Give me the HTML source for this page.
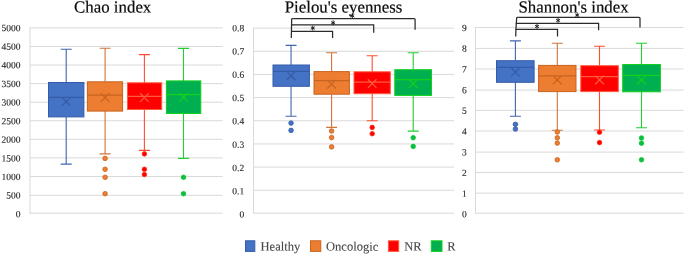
<!DOCTYPE html>
<html><head><meta charset="utf-8"><title>chart</title>
<style>html,body{margin:0;padding:0;background:#fff;}body{width:685px;height:255px;overflow:hidden;font-family:"Liberation Serif",serif;}svg{display:block;will-change:transform;}</style>
</head><body>
<svg width="685" height="255" viewBox="0 0 685 255" font-family="Liberation Serif, serif">
<line x1="29.5" y1="213.2" x2="222.7" y2="213.2" stroke="#D9D9D9" stroke-width="1"/>
<text x="20.6" y="217.25" transform="rotate(0.05 20.6 217.25)" text-anchor="end" font-size="9.5" fill="#262626" stroke="#262626" stroke-width="0.12">0</text>
<line x1="30" y1="195.3" x2="222.7" y2="195.3" stroke="#D9D9D9" stroke-width="1"/>
<text x="20.6" y="198.64" transform="rotate(0.05 20.6 198.64)" text-anchor="end" font-size="9.5" fill="#262626" stroke="#262626" stroke-width="0.12">500</text>
<line x1="30" y1="176.46" x2="222.7" y2="176.46" stroke="#D9D9D9" stroke-width="1"/>
<text x="20.6" y="180.03" transform="rotate(0.05 20.6 180.03)" text-anchor="end" font-size="9.5" fill="#262626" stroke="#262626" stroke-width="0.12">1000</text>
<line x1="30" y1="157.89" x2="222.7" y2="157.89" stroke="#D9D9D9" stroke-width="1"/>
<text x="20.6" y="161.42" transform="rotate(0.05 20.6 161.42)" text-anchor="end" font-size="9.5" fill="#262626" stroke="#262626" stroke-width="0.12">1500</text>
<line x1="30" y1="139.32" x2="222.7" y2="139.32" stroke="#D9D9D9" stroke-width="1"/>
<text x="20.6" y="142.81" transform="rotate(0.05 20.6 142.81)" text-anchor="end" font-size="9.5" fill="#262626" stroke="#262626" stroke-width="0.12">2000</text>
<line x1="30" y1="120.75" x2="222.7" y2="120.75" stroke="#D9D9D9" stroke-width="1"/>
<text x="20.6" y="124.2" transform="rotate(0.05 20.6 124.2)" text-anchor="end" font-size="9.5" fill="#262626" stroke="#262626" stroke-width="0.12">2500</text>
<line x1="30" y1="102.18" x2="222.7" y2="102.18" stroke="#D9D9D9" stroke-width="1"/>
<text x="20.6" y="105.59" transform="rotate(0.05 20.6 105.59)" text-anchor="end" font-size="9.5" fill="#262626" stroke="#262626" stroke-width="0.12">3000</text>
<line x1="30" y1="83.61" x2="222.7" y2="83.61" stroke="#D9D9D9" stroke-width="1"/>
<text x="20.6" y="86.98" transform="rotate(0.05 20.6 86.98)" text-anchor="end" font-size="9.5" fill="#262626" stroke="#262626" stroke-width="0.12">3500</text>
<line x1="30" y1="65.04" x2="222.7" y2="65.04" stroke="#D9D9D9" stroke-width="1"/>
<text x="20.6" y="68.37" transform="rotate(0.05 20.6 68.37)" text-anchor="end" font-size="9.5" fill="#262626" stroke="#262626" stroke-width="0.12">4000</text>
<line x1="30" y1="46.47" x2="222.7" y2="46.47" stroke="#D9D9D9" stroke-width="1"/>
<text x="20.6" y="49.76" transform="rotate(0.05 20.6 49.76)" text-anchor="end" font-size="9.5" fill="#262626" stroke="#262626" stroke-width="0.12">4500</text>
<line x1="30" y1="27.9" x2="222.7" y2="27.9" stroke="#D9D9D9" stroke-width="1"/>
<text x="20.6" y="31.15" transform="rotate(0.05 20.6 31.15)" text-anchor="end" font-size="9.5" fill="#262626" stroke="#262626" stroke-width="0.12">5000</text>
<line x1="30" y1="27.4" x2="30" y2="213.7" stroke="#D9D9D9" stroke-width="1"/>
<text x="112.7" y="12.5" transform="rotate(0.05 112.7 12.5)" text-anchor="middle" font-size="16.85" fill="#0c0c0c" stroke="#0c0c0c" stroke-width="0.2">Chao index</text>
<path d="M66.2 82.5V49.2M60.7 49.2H71.7M66.2 116.9V164.1M60.7 164.1H71.7" stroke="#4166B0" stroke-width="1.1" fill="none"/>
<rect x="48.5" y="82.5" width="35.4" height="34.4" fill="#4472C4" stroke="#355CA8" stroke-width="1"/>
<path d="M48.5 97.3H83.9M61.9 97.4L70.5 106M61.9 106L70.5 97.4" stroke="#355CA8" stroke-width="1.25" fill="none"/>
<path d="M105.1 81.8V48.3M99.6 48.3H110.6M105.1 111.1V153.9M99.6 153.9H110.6" stroke="#D0743A" stroke-width="1.1" fill="none"/>
<rect x="87.4" y="81.8" width="35.2" height="29.3" fill="#ED7D31" stroke="#C8641E" stroke-width="1"/>
<path d="M87.4 95.2H122.6M100.8 93.3L109.4 101.9M100.8 101.9L109.4 93.3" stroke="#C8641E" stroke-width="1.25" fill="none"/>
<circle cx="105.1" cy="158.4" r="2.3" fill="#ED7D31" stroke="#C8641E" stroke-width="0.8"/>
<circle cx="105.1" cy="169.3" r="2.3" fill="#ED7D31" stroke="#C8641E" stroke-width="0.8"/>
<circle cx="105.1" cy="177.3" r="2.3" fill="#ED7D31" stroke="#C8641E" stroke-width="0.8"/>
<circle cx="105.1" cy="193.7" r="2.3" fill="#ED7D31" stroke="#C8641E" stroke-width="0.8"/>
<path d="M144.4 82.8V54.6M138.9 54.6H149.9M144.4 109.5V150.4M138.9 150.4H149.9" stroke="#FF4D30" stroke-width="1.1" fill="none"/>
<rect x="127.5" y="82.8" width="34.2" height="26.7" fill="#FF0000" stroke="#FF5A3C" stroke-width="1"/>
<path d="M127.5 96.3H161.7M140.1 93.3L148.7 101.9M140.1 101.9L148.7 93.3" stroke="#FF5A3C" stroke-width="1.25" fill="none"/>
<circle cx="144.4" cy="153.9" r="2.3" fill="#FF0000" stroke="#FF3018" stroke-width="0.8"/>
<circle cx="144.4" cy="169.3" r="2.3" fill="#FF0000" stroke="#FF3018" stroke-width="0.8"/>
<circle cx="144.4" cy="174.5" r="2.3" fill="#FF0000" stroke="#FF3018" stroke-width="0.8"/>
<path d="M183.5 80.9V48.4M178 48.4H189M183.5 113.5V158.4M178 158.4H189" stroke="#20D030" stroke-width="1.1" fill="none"/>
<rect x="166.4" y="80.9" width="34.4" height="32.6" fill="#00B050" stroke="#10D020" stroke-width="1"/>
<path d="M166.4 94.5H200.8M179.2 93L187.8 101.6M179.2 101.6L187.8 93" stroke="#10D020" stroke-width="1.25" fill="none"/>
<circle cx="183.5" cy="177.3" r="2.3" fill="#0CBE40" stroke="#14C83C" stroke-width="0.8"/>
<circle cx="183.5" cy="193.7" r="2.3" fill="#0CBE40" stroke="#14C83C" stroke-width="0.8"/>
<line x1="253" y1="213.2" x2="454" y2="213.2" stroke="#D9D9D9" stroke-width="1"/>
<text x="244.2" y="217.55" transform="rotate(0.05 244.2 217.55)" text-anchor="end" font-size="9.5" fill="#262626" stroke="#262626" stroke-width="0.12">0</text>
<line x1="253.5" y1="190.29" x2="454" y2="190.29" stroke="#D9D9D9" stroke-width="1"/>
<text x="244.2" y="194.25" transform="rotate(0.05 244.2 194.25)" text-anchor="end" font-size="9.5" fill="#262626" stroke="#262626" stroke-width="0.12">0.1</text>
<line x1="253.5" y1="167.12" x2="454" y2="167.12" stroke="#D9D9D9" stroke-width="1"/>
<text x="244.2" y="170.95" transform="rotate(0.05 244.2 170.95)" text-anchor="end" font-size="9.5" fill="#262626" stroke="#262626" stroke-width="0.12">0.2</text>
<line x1="253.5" y1="143.95" x2="454" y2="143.95" stroke="#D9D9D9" stroke-width="1"/>
<text x="244.2" y="147.65" transform="rotate(0.05 244.2 147.65)" text-anchor="end" font-size="9.5" fill="#262626" stroke="#262626" stroke-width="0.12">0.3</text>
<line x1="253.5" y1="120.78" x2="454" y2="120.78" stroke="#D9D9D9" stroke-width="1"/>
<text x="244.2" y="124.35" transform="rotate(0.05 244.2 124.35)" text-anchor="end" font-size="9.5" fill="#262626" stroke="#262626" stroke-width="0.12">0.4</text>
<line x1="253.5" y1="97.61" x2="454" y2="97.61" stroke="#D9D9D9" stroke-width="1"/>
<text x="244.2" y="101.05" transform="rotate(0.05 244.2 101.05)" text-anchor="end" font-size="9.5" fill="#262626" stroke="#262626" stroke-width="0.12">0.5</text>
<line x1="253.5" y1="74.44" x2="454" y2="74.44" stroke="#D9D9D9" stroke-width="1"/>
<text x="244.2" y="77.75" transform="rotate(0.05 244.2 77.75)" text-anchor="end" font-size="9.5" fill="#262626" stroke="#262626" stroke-width="0.12">0.6</text>
<line x1="253.5" y1="51.27" x2="454" y2="51.27" stroke="#D9D9D9" stroke-width="1"/>
<text x="244.2" y="54.45" transform="rotate(0.05 244.2 54.45)" text-anchor="end" font-size="9.5" fill="#262626" stroke="#262626" stroke-width="0.12">0.7</text>
<line x1="253.5" y1="28.1" x2="454" y2="28.1" stroke="#D9D9D9" stroke-width="1"/>
<text x="244.2" y="31.15" transform="rotate(0.05 244.2 31.15)" text-anchor="end" font-size="9.5" fill="#262626" stroke="#262626" stroke-width="0.12">0.8</text>
<line x1="253.5" y1="27.6" x2="253.5" y2="213.7" stroke="#D9D9D9" stroke-width="1"/>
<text x="343.5" y="12.5" transform="rotate(0.05 343.5 12.5)" text-anchor="middle" font-size="16.85" fill="#0c0c0c" stroke="#0c0c0c" stroke-width="0.2">Pielou's eyenness</text>
<path d="M291.05 65V45.4M285.55 45.4H296.55M291.05 86.3V116.2M285.55 116.2H296.55" stroke="#4166B0" stroke-width="1.1" fill="none"/>
<rect x="273" y="65" width="36.4" height="21.3" fill="#4472C4" stroke="#355CA8" stroke-width="1"/>
<path d="M273 71.3H309.4M286.75 71.4L295.35 80M286.75 80L295.35 71.4" stroke="#355CA8" stroke-width="1.25" fill="none"/>
<circle cx="291.05" cy="123.1" r="2.3" fill="#4472C4" stroke="#355CA8" stroke-width="0.8"/>
<circle cx="291.05" cy="130.4" r="2.3" fill="#4472C4" stroke="#355CA8" stroke-width="0.8"/>
<path d="M331.6 71.6V52.7M326.1 52.7H337.1M331.6 94.2V127.4M326.1 127.4H337.1" stroke="#D0743A" stroke-width="1.1" fill="none"/>
<rect x="314" y="71.6" width="35.4" height="22.6" fill="#ED7D31" stroke="#C8641E" stroke-width="1"/>
<path d="M314 80.5H349.4M327.3 79.9L335.9 88.5M327.3 88.5L335.9 79.9" stroke="#C8641E" stroke-width="1.25" fill="none"/>
<circle cx="331.6" cy="131" r="2.3" fill="#ED7D31" stroke="#C8641E" stroke-width="0.8"/>
<circle cx="331.6" cy="137.6" r="2.3" fill="#ED7D31" stroke="#C8641E" stroke-width="0.8"/>
<circle cx="331.6" cy="146.9" r="2.3" fill="#ED7D31" stroke="#C8641E" stroke-width="0.8"/>
<path d="M372.2 71.8V55.8M366.7 55.8H377.7M372.2 93.7V120.8M366.7 120.8H377.7" stroke="#FF4D30" stroke-width="1.1" fill="none"/>
<rect x="354" y="71.8" width="36.3" height="21.9" fill="#FF0000" stroke="#FF5A3C" stroke-width="1"/>
<path d="M354 82H390.3M367.9 79.3L376.5 87.9M367.9 87.9L376.5 79.3" stroke="#FF5A3C" stroke-width="1.25" fill="none"/>
<circle cx="372.2" cy="127.4" r="2.3" fill="#FF0000" stroke="#FF3018" stroke-width="0.8"/>
<circle cx="372.2" cy="133.7" r="2.3" fill="#FF0000" stroke="#FF3018" stroke-width="0.8"/>
<path d="M413.2 69.7V52.7M407.7 52.7H418.7M413.2 95.4V131.1M407.7 131.1H418.7" stroke="#20D030" stroke-width="1.1" fill="none"/>
<rect x="394.8" y="69.7" width="36.7" height="25.7" fill="#00B050" stroke="#10D020" stroke-width="1"/>
<path d="M394.8 79.5H431.5M408.9 79.3L417.5 87.9M408.9 87.9L417.5 79.3" stroke="#10D020" stroke-width="1.25" fill="none"/>
<circle cx="413.2" cy="137.7" r="2.3" fill="#0CBE40" stroke="#14C83C" stroke-width="0.8"/>
<circle cx="413.2" cy="146.4" r="2.3" fill="#0CBE40" stroke="#14C83C" stroke-width="0.8"/>
<path d="M293.2 18.7H292.5Q291.7 18.7 291.65 19.5L291.5 28L291.3 38" stroke="#2b2b2b" stroke-width="1.25" fill="none" stroke-linejoin="round"/>
<path d="M293.2 18.7H414.2Q415.1 18.7 415.1 19.6V29.8" stroke="#2b2b2b" stroke-width="1.25" fill="none"/>
<path d="M352.3 13.3V18.3M350.3 14.55L354.3 17.05M350.3 17.05L354.3 14.55" stroke="#1a1a1a" stroke-width="0.95" fill="none"/>
<path d="M291.2 24.8H373.7V32.8" stroke="#2b2b2b" stroke-width="1.25" fill="none"/>
<path d="M333.1 20.3V25.3M331.1 21.55L335.1 24.05M331.1 24.05L335.1 21.55" stroke="#1a1a1a" stroke-width="0.95" fill="none"/>
<path d="M291 31.4H332.6V38" stroke="#2b2b2b" stroke-width="1.25" fill="none"/>
<path d="M312.8 25.6V30.6M310.8 26.85L314.8 29.35M310.8 29.35L314.8 26.85" stroke="#1a1a1a" stroke-width="0.95" fill="none"/>
<line x1="475" y1="213.2" x2="683.5" y2="213.2" stroke="#D9D9D9" stroke-width="1"/>
<text x="466.7" y="217.35" transform="rotate(0.05 466.7 217.35)" text-anchor="end" font-size="9.5" fill="#262626" stroke="#262626" stroke-width="0.12">0</text>
<line x1="475.5" y1="193.15" x2="683.5" y2="193.15" stroke="#D9D9D9" stroke-width="1"/>
<text x="466.7" y="196.65" transform="rotate(0.05 466.7 196.65)" text-anchor="end" font-size="9.5" fill="#262626" stroke="#262626" stroke-width="0.12">1</text>
<line x1="475.5" y1="172.45" x2="683.5" y2="172.45" stroke="#D9D9D9" stroke-width="1"/>
<text x="466.7" y="175.95" transform="rotate(0.05 466.7 175.95)" text-anchor="end" font-size="9.5" fill="#262626" stroke="#262626" stroke-width="0.12">2</text>
<line x1="475.5" y1="152.1" x2="683.5" y2="152.1" stroke="#D9D9D9" stroke-width="1"/>
<text x="466.7" y="155.25" transform="rotate(0.05 466.7 155.25)" text-anchor="end" font-size="9.5" fill="#262626" stroke="#262626" stroke-width="0.12">3</text>
<line x1="475.5" y1="131.05" x2="683.5" y2="131.05" stroke="#D9D9D9" stroke-width="1"/>
<text x="466.7" y="134.55" transform="rotate(0.05 466.7 134.55)" text-anchor="end" font-size="9.5" fill="#262626" stroke="#262626" stroke-width="0.12">4</text>
<line x1="475.5" y1="110.35" x2="683.5" y2="110.35" stroke="#D9D9D9" stroke-width="1"/>
<text x="466.7" y="113.85" transform="rotate(0.05 466.7 113.85)" text-anchor="end" font-size="9.5" fill="#262626" stroke="#262626" stroke-width="0.12">5</text>
<line x1="475.5" y1="90.1" x2="683.5" y2="90.1" stroke="#D9D9D9" stroke-width="1"/>
<text x="466.7" y="93.15" transform="rotate(0.05 466.7 93.15)" text-anchor="end" font-size="9.5" fill="#262626" stroke="#262626" stroke-width="0.12">6</text>
<line x1="475.5" y1="68.95" x2="683.5" y2="68.95" stroke="#D9D9D9" stroke-width="1"/>
<text x="466.7" y="72.45" transform="rotate(0.05 466.7 72.45)" text-anchor="end" font-size="9.5" fill="#262626" stroke="#262626" stroke-width="0.12">7</text>
<line x1="475.5" y1="48.4" x2="683.5" y2="48.4" stroke="#D9D9D9" stroke-width="1"/>
<text x="466.7" y="51.75" transform="rotate(0.05 466.7 51.75)" text-anchor="end" font-size="9.5" fill="#262626" stroke="#262626" stroke-width="0.12">8</text>
<line x1="475.5" y1="27.55" x2="683.5" y2="27.55" stroke="#D9D9D9" stroke-width="1"/>
<text x="466.7" y="31.05" transform="rotate(0.05 466.7 31.05)" text-anchor="end" font-size="9.5" fill="#262626" stroke="#262626" stroke-width="0.12">9</text>
<line x1="475.5" y1="27.05" x2="475.5" y2="213.7" stroke="#D9D9D9" stroke-width="1"/>
<text x="573.6" y="12.55" transform="rotate(0.05 573.6 12.55)" text-anchor="middle" font-size="16.85" fill="#0c0c0c" stroke="#0c0c0c" stroke-width="0.2">Shannon's index</text>
<path d="M515.4 60.7V40.9M509.9 40.9H520.9M515.4 82.3V116.2M509.9 116.2H520.9" stroke="#4166B0" stroke-width="1.1" fill="none"/>
<rect x="496.5" y="60.7" width="37.6" height="21.6" fill="#4472C4" stroke="#355CA8" stroke-width="1"/>
<path d="M496.5 67.3H534.1M511.1 67.8L519.7 76.4M511.1 76.4L519.7 67.8" stroke="#355CA8" stroke-width="1.25" fill="none"/>
<circle cx="515.4" cy="124.3" r="2.3" fill="#4472C4" stroke="#355CA8" stroke-width="0.8"/>
<circle cx="515.4" cy="129" r="2.3" fill="#4472C4" stroke="#355CA8" stroke-width="0.8"/>
<path d="M557.3 65.4V43.2M551.8 43.2H562.8M557.3 91.6V130.2M551.8 130.2H562.8" stroke="#D0743A" stroke-width="1.1" fill="none"/>
<rect x="538.6" y="65.4" width="37.4" height="26.2" fill="#ED7D31" stroke="#C8641E" stroke-width="1"/>
<path d="M538.6 75.9H576M553 75.6L561.6 84.2M553 84.2L561.6 75.6" stroke="#C8641E" stroke-width="1.25" fill="none"/>
<circle cx="557.3" cy="132" r="2.3" fill="#ED7D31" stroke="#C8641E" stroke-width="0.8"/>
<circle cx="557.3" cy="137.8" r="2.3" fill="#ED7D31" stroke="#C8641E" stroke-width="0.8"/>
<circle cx="557.3" cy="143.1" r="2.3" fill="#ED7D31" stroke="#C8641E" stroke-width="0.8"/>
<circle cx="557.3" cy="159.8" r="2.3" fill="#ED7D31" stroke="#C8641E" stroke-width="0.8"/>
<path d="M599.5 65.7V46.3M594 46.3H605M599.5 91.6V130M594 130H605" stroke="#FF4D30" stroke-width="1.1" fill="none"/>
<rect x="580.8" y="65.7" width="37.5" height="25.9" fill="#FF0000" stroke="#FF5A3C" stroke-width="1"/>
<path d="M580.8 76.5H618.3M595.2 75.6L603.8 84.2M595.2 84.2L603.8 75.6" stroke="#FF5A3C" stroke-width="1.25" fill="none"/>
<circle cx="599.5" cy="132.2" r="2.3" fill="#FF0000" stroke="#FF3018" stroke-width="0.8"/>
<circle cx="599.5" cy="142.6" r="2.3" fill="#FF0000" stroke="#FF3018" stroke-width="0.8"/>
<path d="M641.5 64.5V43.2M636 43.2H647M641.5 91.8V127.8M636 127.8H647" stroke="#20D030" stroke-width="1.1" fill="none"/>
<rect x="622.7" y="64.5" width="37.7" height="27.3" fill="#00B050" stroke="#10D020" stroke-width="1"/>
<path d="M622.7 75.3H660.4M637.2 75.6L645.8 84.2M637.2 84.2L645.8 75.6" stroke="#10D020" stroke-width="1.25" fill="none"/>
<circle cx="641.5" cy="138" r="2.3" fill="#0CBE40" stroke="#14C83C" stroke-width="0.8"/>
<circle cx="641.5" cy="143.2" r="2.3" fill="#0CBE40" stroke="#14C83C" stroke-width="0.8"/>
<circle cx="641.5" cy="159.8" r="2.3" fill="#0CBE40" stroke="#14C83C" stroke-width="0.8"/>
<path d="M518.2 17.3H517.5Q516.7 17.3 516.65 18.1L516 28L515.7 36.5" stroke="#2b2b2b" stroke-width="1.25" fill="none" stroke-linejoin="round"/>
<path d="M518.2 17.3H639.1Q640 17.3 640 18.2V27.6" stroke="#2b2b2b" stroke-width="1.25" fill="none"/>
<path d="M577.2 12.6V17.6M575.2 13.85L579.2 16.35M575.2 16.35L579.2 13.85" stroke="#1a1a1a" stroke-width="0.95" fill="none"/>
<path d="M515.8 23.3H598.6V30.3" stroke="#2b2b2b" stroke-width="1.25" fill="none"/>
<path d="M558.1 17.9V22.9M556.1 19.15L560.1 21.65M556.1 21.65L560.1 19.15" stroke="#1a1a1a" stroke-width="0.95" fill="none"/>
<path d="M515.5 29.3H557.5V36.5" stroke="#2b2b2b" stroke-width="1.25" fill="none"/>
<path d="M537 23.9V28.9M535 25.15L539 27.65M535 27.65L539 25.15" stroke="#1a1a1a" stroke-width="0.95" fill="none"/>
<rect x="245.5" y="240.8" width="9.3" height="10.6" fill="#4472C4" stroke="#355CA8" stroke-width="1"/>
<text x="260.5" y="250.6" transform="rotate(0.05 260.5 250.6)" font-size="12.55" fill="#484848" stroke="#484848" stroke-width="0.12">Healthy</text>
<rect x="310.5" y="240.8" width="10.3" height="10.6" fill="#ED7D31" stroke="#C8641E" stroke-width="1"/>
<text x="326" y="250.6" transform="rotate(0.05 326 250.6)" font-size="12.55" fill="#484848" stroke="#484848" stroke-width="0.12">Oncologic</text>
<rect x="388.4" y="240.8" width="10.3" height="10.6" fill="#FF0000" stroke="#FF5A3C" stroke-width="1"/>
<text x="404.3" y="250.6" transform="rotate(0.05 404.3 250.6)" font-size="12.55" fill="#484848" stroke="#484848" stroke-width="0.12">NR</text>
<rect x="431.3" y="240.8" width="10.7" height="10.6" fill="#00B050" stroke="#10D020" stroke-width="1"/>
<text x="447.3" y="250.6" transform="rotate(0.05 447.3 250.6)" font-size="12.55" fill="#484848" stroke="#484848" stroke-width="0.12">R</text>
</svg>
</body></html>
